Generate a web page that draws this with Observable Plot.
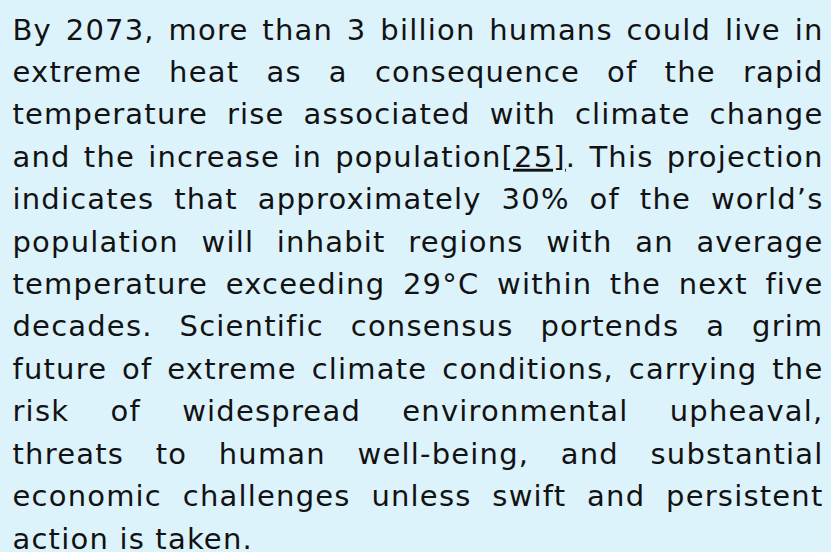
<!DOCTYPE html>
<html>
<head>
<meta charset="utf-8">
<script src="https://cdn.jsdelivr.net/npm/d3@7"></script>
<script src="https://cdn.jsdelivr.net/npm/@observablehq/plot@0.6"></script>
<style>
  html, body { margin: 0; padding: 0; background: #ddf3fc; overflow: hidden; }
  #chart svg { display: block; }
</style>
</head>
<body>
<div id="chart"></div>
<script>
// Paragraph lines, as broken in the reference
const lines = [
  "By 2073, more than 3 billion humans could live in",
  "extreme heat as a consequence of the rapid",
  "temperature rise associated with climate change",
  "and the increase in population[25]. This projection",
  "indicates that approximately 30% of the world’s",
  "population will inhabit regions with an average",
  "temperature exceeding 29°C within the next five",
  "decades. Scientific consensus portends a grim",
  "future of extreme climate conditions, carrying the",
  "risk of widespread environmental upheaval,",
  "threats to human well-being, and substantial",
  "economic challenges unless swift and persistent",
  "action is taken."
];
// The citation link that is underlined
const linkText = "[25]";

const lineIdx = lines.map((_, i) => i);

const plot = Plot.plot({
  width: 831,
  height: 552,
  margin: 0,
  style: { fontFamily: "DejaVu Sans", background: "#ddf3fc", overflow: "hidden", letterSpacing: "1.2px" },
  x: { domain: [0, 1], range: [12, 823], axis: null },
  y: { domain: [0, lines.length - 1], range: [39, 548], axis: null },
  marks: [
    Plot.text(lineIdx, {
      x: () => 0,
      y: (d) => d,
      text: (d) => lines[d],
      textAnchor: "start",
      lineAnchor: "bottom",
      fontSize: 29,
      fill: "#121212"
    })
  ]
});
document.getElementById("chart").appendChild(plot);

// underline the citation and justify every line but the last
const texts = plot.querySelectorAll('g[aria-label="text"] text');
const fullWidth = 823 - 12;
texts.forEach((t, i) => {
  const s = lines[i];
  const k = s.indexOf(linkText);
  if (k >= 0) {
    t.textContent = "";
    const parts = [s.slice(0, k), linkText, s.slice(k + linkText.length)];
    parts.forEach((p, j) => {
      const ts = document.createElementNS("http://www.w3.org/2000/svg", "tspan");
      ts.textContent = p;
      if (j === 1) ts.setAttribute("text-decoration", "underline");
      t.appendChild(ts);
    });
  }
  if (i < lines.length - 1) {
    const len = t.getComputedTextLength();
    const spaces = (s.match(/ /g) || []).length;
    if (spaces > 0) t.style.wordSpacing = ((fullWidth - len) / spaces) + "px";
  }
});
</script>
</body>
</html>
